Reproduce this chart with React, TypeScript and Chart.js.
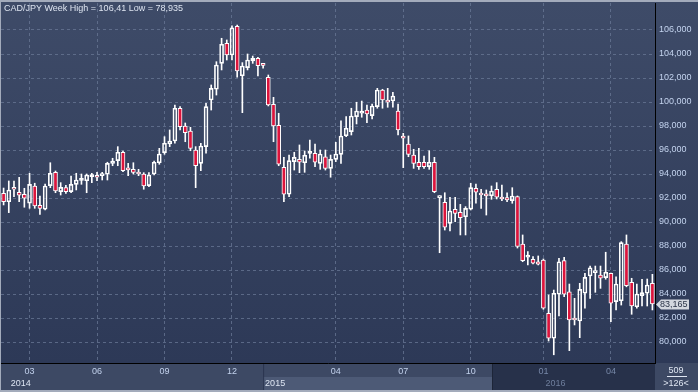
import React, { useEffect, useRef } from 'react';
import { Chart, registerables } from 'chart.js';
Chart.register(...registerables);

const symbol = 'CAD/JPY';
const period = 'Week';

const opens = [
  92.39, 91.69, 92.89, 92.48, 92.31, 91.56, 93.0, 91.39, 91.06, 93.03,
  94.14, 92.53, 92.86, 92.53, 93.14, 93.47, 93.44, 93.78, 93.86, 93.86,
  93.98, 94.89, 95.11, 95.81, 94.36, 94.39, 94.14, 94.0, 93.03, 94.0,
  94.94, 95.78, 96.5, 96.75, 99.48, 98.0, 97.58, 96.0, 94.89, 96.28,
  100.17, 101.06, 103.22, 104.89, 103.92, 106.3, 102.19, 102.86, 103.42, 103.64,
  103.06, 102.06, 99.81, 98.06, 94.56, 92.31, 95.03, 95.22, 94.94, 95.72,
  95.73, 94.89, 95.44, 94.47, 95.22, 95.64, 97.19, 97.53, 98.78, 99.06,
  99.33, 98.86, 99.61, 101.0, 100.17, 100.08, 99.25, 97.17, 96.5, 95.58,
  94.98, 94.98, 94.61, 94.98, 92.03, 91.64, 89.89, 91.06, 90.81, 90.44,
  91.06, 92.81, 92.39, 92.19, 92.19, 92.73, 91.93, 92.03, 91.78, 92.11,
  88.17, 87.06, 86.89, 86.69, 86.83, 82.39, 80.31, 83.98, 86.78, 84.19,
  81.98, 81.75, 84.06, 85.5, 85.78, 85.58, 85.36, 85.73, 83.36, 83.44,
  88.17, 84.98, 82.94, 83.86, 84.06, 84.89,
];
const highs = [
  92.83, 93.42, 93.42, 93.73, 92.81, 94.06, 93.23, 92.17, 93.17, 94.94,
  94.25, 93.28, 93.06, 93.83, 94.06, 94.0, 94.0, 94.06, 94.14, 94.14,
  94.98, 95.31, 96.28, 95.92, 94.89, 94.94, 94.39, 94.11, 94.11, 95.08,
  96.14, 97.11, 97.67, 99.75, 99.61, 98.25, 97.89, 96.28, 96.56, 99.89,
  101.42, 103.36, 105.31, 105.17, 106.35, 106.41, 103.28, 104.0, 103.83, 103.73,
  103.22, 102.25, 100.39, 99.06, 95.39, 95.58, 95.81, 96.42, 95.92, 96.83,
  96.5, 96.0, 96.0, 95.58, 96.64, 98.44, 98.78, 99.48, 99.98, 100.08,
  99.75, 99.83, 101.14, 101.06, 101.14, 100.81, 99.83, 97.39, 97.17, 96.06,
  96.14, 95.5, 95.94, 95.39, 92.19, 92.44, 92.06, 92.06, 91.47, 91.28,
  93.23, 93.17, 92.73, 92.67, 93.0, 93.28, 93.08, 92.44, 92.86, 92.17,
  88.92, 87.53, 87.11, 87.17, 86.92, 83.92, 84.33, 86.98, 87.06, 84.83,
  83.64, 84.89, 85.73, 86.33, 86.33, 86.33, 87.48, 85.75, 85.44, 88.36,
  88.92, 85.31, 84.83, 85.23, 85.25, 85.64,
];
const lows = [
  91.42, 90.78, 92.11, 91.69, 91.23, 91.14, 91.14, 90.64, 91.0, 92.86,
  92.44, 92.25, 92.39, 92.44, 92.67, 93.14, 92.44, 93.28, 93.44, 93.5,
  93.5, 94.69, 94.69, 94.19, 93.86, 94.0, 93.86, 92.73, 92.94, 93.92,
  94.81, 95.64, 96.28, 96.56, 97.67, 96.69, 95.94, 92.86, 94.28, 95.73,
  99.33, 100.58, 102.67, 103.5, 103.5, 102.06, 99.11, 102.67, 103.22, 102.17,
  102.81, 99.67, 96.69, 94.69, 91.69, 92.11, 94.33, 94.11, 94.14, 95.31,
  94.61, 94.39, 94.33, 93.73, 95.03, 94.89, 97.11, 97.25, 98.17, 98.73,
  98.28, 98.58, 99.48, 99.48, 99.56, 99.56, 97.25, 94.53, 95.44, 94.47,
  94.39, 94.47, 94.39, 92.44, 87.44, 89.33, 89.25, 90.03, 88.92, 88.92,
  91.0, 91.56, 91.14, 90.58, 91.89, 91.92, 91.78, 91.69, 91.56, 87.83,
  86.69, 86.42, 86.5, 86.42, 82.73, 80.08, 78.935, 82.17, 83.78, 79.28,
  81.42, 80.36, 82.81, 83.64, 84.14, 84.47, 85.23, 81.69, 82.67, 83.08,
  84.6, 82.31, 82.81, 83.0, 83.0, 82.67,
];
const closes = [
  91.69, 92.67, 92.73, 92.23, 91.98, 93.14, 91.33, 91.14, 93.0, 94.06,
  92.58, 92.89, 92.53, 93.14, 93.5, 93.5, 93.92, 93.86, 93.73, 94.0,
  94.89, 95.08, 95.81, 94.28, 94.35, 94.14, 94.0, 93.0, 93.92, 94.98,
  95.67, 96.56, 96.75, 99.48, 97.94, 97.44, 96.14, 94.69, 96.33, 99.61,
  101.14, 103.08, 104.81, 103.92, 106.19, 102.58, 103.0, 103.5, 103.64, 103.03,
  103.05, 99.75, 98.0, 94.81, 92.31, 95.11, 95.39, 94.98, 95.56, 95.73,
  94.98, 95.67, 94.47, 95.22, 95.67, 97.17, 97.81, 98.83, 99.25, 99.25,
  99.0, 99.67, 101.0, 100.17, 99.98, 100.5, 97.67, 96.98, 95.64, 94.89,
  94.61, 94.61, 94.98, 92.53, 92.19, 89.56, 90.92, 90.72, 90.36, 91.14,
  92.86, 92.48, 92.25, 92.18, 92.58, 92.06, 91.92, 91.83, 92.17, 87.96,
  86.78, 87.25, 86.56, 86.48, 82.81, 80.31, 84.06, 86.69, 83.98, 81.83,
  81.83, 84.39, 85.39, 86.19, 85.92, 85.31, 85.81, 83.23, 84.83, 88.28,
  84.69, 83.0, 84.0, 84.11, 84.75, 83.165,
];

const monthTickIndex = [5, 18, 31, 44, 64, 77, 90, 104, 117];
const monthTickText = ['03', '06', '09', '12', '04', '07', '10', '01', '04'];
const yearTickIndex = [1, 50, 104];
const yearTickText = ['2014', '2015', '2016'];
const yTickValues = [80, 82, 84, 86, 88, 90, 92, 94, 96, 98, 100, 102, 104, 106];
const barCountText = '509';

const FONT = '"Liberation Sans", Arial, sans-serif';
const fmt3 = (v: number) => v.toFixed(3).replace('.', ',');
const fmtRaw = (v: number) => String(v).replace('.', ',');

export default function App() {
  const ref = useRef<HTMLCanvasElement>(null);
  useEffect(() => {
    const canvas = ref.current!;
    const n = opens.length;
    const labels = Array.from({ length: n }, (_, i) => {
      const k = monthTickIndex.indexOf(i);
      return k >= 0 ? monthTickText[k] : '';
    });
    const bodyData = opens.map((o, i) => [o, closes[i]]);
    const upperWick = opens.map((o, i) => [Math.max(o, closes[i]), highs[i]]);
    const lowerWick = opens.map((o, i) => [lows[i], Math.min(o, closes[i])]);
    const bodyColors = opens.map((o, i) => (closes[i] < o ? '#dc143c' : 'rgba(0,0,0,0)'));
    const darkStart = 493;

    const bgPlugin = {
      id: 'bg',
      beforeDraw(chart: any) {
        const ctx = chart.ctx;
        const { top, bottom, right } = chart.chartArea;
        ctx.save();
        const g = ctx.createLinearGradient(0, top, 0, bottom);
        g.addColorStop(0, '#3e4b68');
        g.addColorStop(1, '#2d3957');
        ctx.fillStyle = g;
        ctx.fillRect(0, 0, 698, bottom);
        ctx.fillStyle = '#3d4964';
        ctx.fillRect(0, bottom, 698, 392 - bottom);
        const xs = chart.scales.x;
        const d15 = xs.getPixelForValue(yearTickIndex[1]);
        ctx.fillStyle = '#4d5a76';
        ctx.fillRect(d15, bottom + 14, darkStart - d15, 13);
        ctx.fillStyle = '#2a3450';
        ctx.fillRect(d15, bottom, 1, 29);
        ctx.fillStyle = '#27314a';
        ctx.fillRect(darkStart, bottom, right - darkStart, 27);
        ctx.fillStyle = '#1d2538';
        ctx.fillRect(darkStart - 1, bottom, 1, 27);
        ctx.fillStyle = '#a3abbb';
        ctx.fillRect(0, 0, 698, 2);
        ctx.fillRect(0, 0, 1, 392);
        ctx.fillRect(0, 390, 698, 2);
        ctx.restore();
      },
    };

    const overlayPlugin = {
      id: 'overlay',
      afterDraw(chart: any) {
        const ctx = chart.ctx;
        const xs = chart.scales.x;
        const ys = chart.scales.y;
        const { bottom, right } = chart.chartArea;
        ctx.save();
        const maxH = Math.max(...highs);
        const minL = Math.min(...lows);
        ctx.font = `9px ${FONT}`;
        ctx.fillStyle = '#dde4f0';
        ctx.textBaseline = 'middle';
        ctx.textAlign = 'left';
        ctx.fillText(`${symbol} ${period} High = ${fmtRaw(maxH)} Low = ${fmtRaw(minL)}`, 4, 8.5);
        yearTickText.forEach((t, k) => {
          const x = xs.getPixelForValue(yearTickIndex[k]) + 2;
          ctx.fillStyle = x > 493 ? '#6f7f9d' : '#dde5f2';
          ctx.fillText(t, x, bottom + 20.5);
        });
        const last = closes[closes.length - 1];
        const py = Math.round(ys.getPixelForValue(last)) + 0.5;
        ctx.beginPath();
        ctx.moveTo(right + 1, py);
        ctx.lineTo(right + 6, py - 5);
        ctx.lineTo(right + 34, py - 5);
        ctx.lineTo(right + 34, py + 5);
        ctx.lineTo(right + 6, py + 5);
        ctx.closePath();
        ctx.fillStyle = '#d3d7df';
        ctx.fill();
        ctx.fillStyle = '#2b3448';
        ctx.fillText(fmt3(last), right + 5, py + 0.5);
        ctx.fillStyle = '#dfe6f2';
        ctx.textAlign = 'center';
        ctx.fillText(barCountText, 676, bottom + 7.5);
        ctx.fillRect(667, bottom + 13, 20, 1);
        ctx.fillText(`>${n}<`, 676, bottom + 20.5);
        ctx.restore();
      },
    };

    const chart = new Chart(canvas, {
      type: 'bar',
      data: {
        labels,
        datasets: [
          {
            data: bodyData as any,
            backgroundColor: bodyColors,
            borderColor: '#ffffff',
            borderWidth: 1,
            borderSkipped: false,
            barThickness: 4,
            minBarLength: 2,
            grouped: false,
          } as any,
          {
            data: upperWick as any,
            backgroundColor: '#ffffff',
            borderWidth: 0,
            barThickness: 1,
            grouped: false,
          } as any,
          {
            data: lowerWick as any,
            backgroundColor: '#ffffff',
            borderWidth: 0,
            barThickness: 1,
            grouped: false,
          } as any,
        ],
      },
      options: {
        responsive: false,
        animation: false,
        devicePixelRatio: 1,
        layout: { padding: { left: 1, top: 3, right: 0, bottom: 0 } },
        plugins: { legend: { display: false }, tooltip: { enabled: false } },
        scales: {
          x: {
            type: 'category',
            offset: true,
            afterFit(scale: any) {
              scale.height = 29;
              scale.paddingLeft = 0;
              scale.paddingRight = 0;
            },
            grid: {
              offset: false,
              drawTicks: false,
              color: (c: any) => (labels[c.index] ? 'rgba(105,120,150,0.75)' : 'rgba(0,0,0,0)'),
              lineWidth: 1,
            },
            border: { display: true, color: '#000000', width: 1, dash: [3, 3] },
            ticks: {
              autoSkip: false,
              maxRotation: 0,
              padding: 3,
              font: { family: FONT, size: 9 },
              color: (c: any) => (c.index > 94 ? '#7788a8' : '#c2d1ec'),
            },
          },
          y: {
            type: 'linear',
            position: 'right',
            min: 78.25,
            max: 108.25,
            afterFit(scale: any) {
              scale.width = 43;
              scale.paddingTop = 0;
              scale.paddingBottom = 0;
            },
            afterBuildTicks(scale: any) {
              scale.ticks = yTickValues.map((v) => ({ value: v }));
            },
            grid: { drawTicks: false, color: 'rgba(105,120,150,0.75)', lineWidth: 1 },
            border: { display: true, color: '#000000', width: 1, dash: [3, 3] },
            ticks: {
              padding: 4,
              font: { family: FONT, size: 9 },
              color: '#c4d4ef',
              callback: (v: any) => fmt3(Number(v)),
            },
          },
        },
      },
      plugins: [bgPlugin, overlayPlugin],
    } as any);
    return () => chart.destroy();
  }, []);
  return (
    <div style={{ position: 'fixed', left: 0, top: 0, width: 698, height: 392 }}>
      <canvas ref={ref} width={698} height={392} style={{ width: 698, height: 392, display: 'block' }} />
    </div>
  );
}
